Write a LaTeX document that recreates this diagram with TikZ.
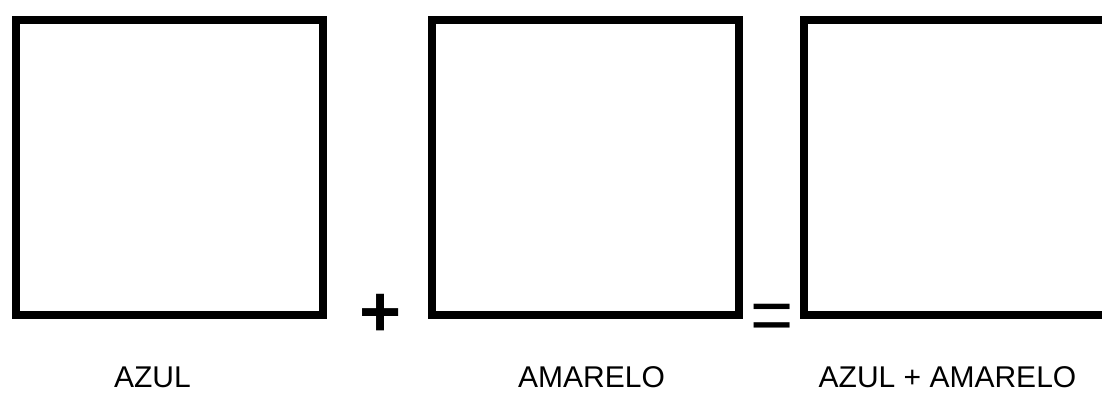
\documentclass[tikz,border=0pt]{standalone}
\usepackage{fontspec}
\setmainfont{Liberation Sans}
\begin{document}
\begin{tikzpicture}[x=1pt,y=-1pt,
  colorbox/.style={draw=black,line width=8pt,fill=white,minimum width=307pt,minimum height=295pt,inner sep=0pt,anchor=north west},
  label/.style={anchor=base,font=\fontsize{30pt}{36pt}\selectfont,inner sep=0pt},
  op/.style={anchor=base,font=\fontsize{74pt}{80pt}\selectfont,inner sep=0pt}]
\useasboundingbox (0,0) rectangle (1102,392);
\clip (0,0) rectangle (1102,392);
\fill[white] (0,0) rectangle (1102,392);
\node[colorbox] (azul) at (12,16) {};
\node[colorbox] (amarelo) at (428,16) {};
\node[colorbox] (mistura) at (800,16) {};
\node[op,font=\fontsize{72pt}{80pt}\selectfont\bfseries] (mais) at (380.5,336) {+};
\node[op] (igual) at (772,340) {=};
\node[label] (tazul) at (152.5,387) {AZUL};
\node[label] (tamarelo) at (591.5,387) {AMARELO};
\node[label] (tmistura) at (947.5,387) {AZUL + AMARELO};
\end{tikzpicture}
\end{document}
